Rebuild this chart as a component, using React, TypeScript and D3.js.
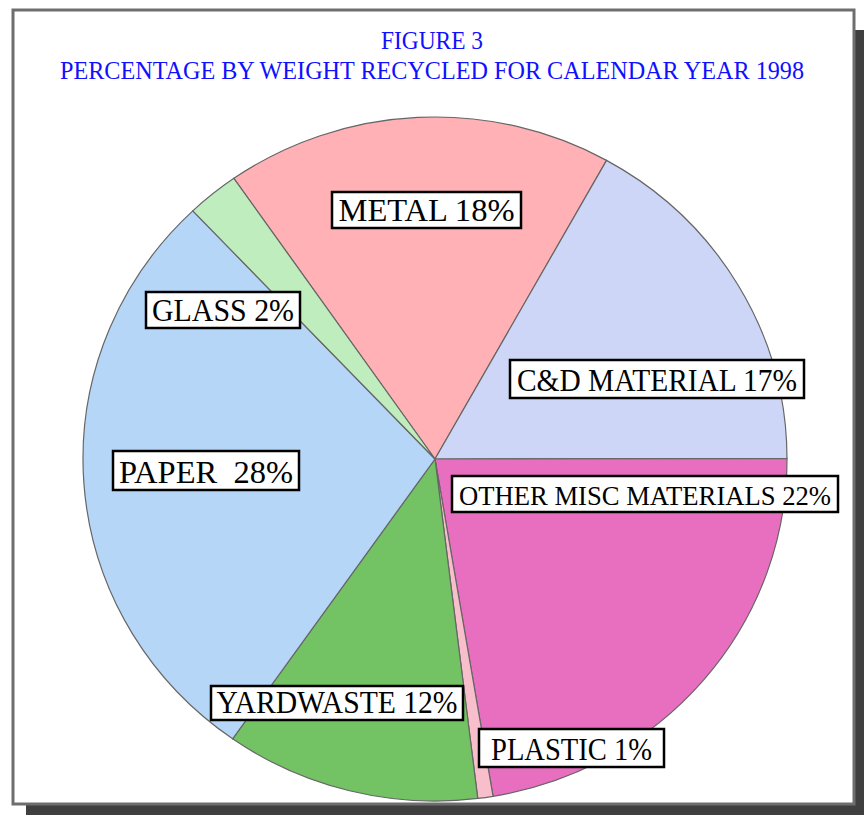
import React from "react";
import * as d3 from "d3";

const categories = ["METAL", "C&D MATERIAL", "OTHER MISC MATERIALS", "PLASTIC", "YARDWASTE", "PAPER", "GLASS"];
const values = [17.8, 16.9, 22.4, 0.7, 11.7, 28.2, 2.4];
const labelTexts = ["METAL 18%", "C&D MATERIAL 17%", "OTHER MISC MATERIALS 22%", "PLASTIC 1%", "YARDWASTE 12%", "PAPER  28%", "GLASS 2%"];
const titleLines = ["FIGURE 3", "PERCENTAGE BY WEIGHT RECYCLED FOR CALENDAR YEAR 1998"];

const colors = ["#FFB1B6", "#CDD6F6", "#E86EC0", "#F8BECB", "#73C263", "#B6D6F7", "#BFEDBE"];

// label box layout: [x, y, w, h, textWidth, fontSize]
const labelLayout: number[][] = [
  [332, 192, 189, 36, 176, 32],
  [510, 360, 294, 38, 280, 32],
  [452, 476, 386, 36, 372, 28],
  [479, 729, 185, 38, 161, 32],
  [211, 686, 252, 34, 241, 32],
  [113, 451, 186, 39, 174, 32],
  [146, 292, 154, 36, 142, 32],
];

const W = 864;
const H = 815;
const cx = 435;
const cy = 459;
const rx = 352;
const ry = 342;

export default function App() {
  const start = (-34.85 * Math.PI) / 180;
  const pie = d3
    .pie<number>()
    .sort(null)
    .value((d) => d)
    .startAngle(start)
    .endAngle(start + 2 * Math.PI);
  const arcs = pie(values);
  const arc = d3.arc<d3.PieArcDatum<number>>().innerRadius(0).outerRadius(rx);

  return (
    <svg
      width={W}
      height={H}
      style={{ position: "absolute", left: 0, top: 0, background: "#fff" }}
      fontFamily="'Liberation Serif', 'Times New Roman', serif"
    >
      {/* shadow */}
      <rect x={855} y={30} width={9} height={785} fill="#3f3f3f" />
      <rect x={26} y={805} width={838} height={10} fill="#3f3f3f" />
      {/* frame */}
      <rect x={13} y={10} width={841} height={794} fill="#fff" stroke="#6e6e6e" strokeWidth={3} />
      {/* title */}
      <text x={432} y={49} textAnchor="middle" fill="#1010ff" fontSize={25} textLength={102} lengthAdjust="spacingAndGlyphs">
        {titleLines[0]}
      </text>
      <text x={432} y={79} textAnchor="middle" fill="#1010ff" fontSize={25} textLength={744} lengthAdjust="spacingAndGlyphs">
        {titleLines[1]}
      </text>
      {/* pie */}
      <g transform={`translate(${cx},${cy}) scale(1,${ry / rx})`}>
        {arcs.map((a, i) => (
          <path
            key={categories[i]}
            d={arc(a) || ""}
            fill={colors[i]}
            stroke="#666"
            strokeWidth={1.2}
            vectorEffect="non-scaling-stroke"
          />
        ))}
      </g>
      {/* labels */}
      {labelLayout.map((l, i) => (
        <g key={labelTexts[i]}>
          <rect x={l[0]} y={l[1]} width={l[2]} height={l[3]} fill="#fff" stroke="#000" strokeWidth={2.5} />
          <text
            x={l[0] + (l[2] - l[4]) / 2}
            y={l[1] + l[3] - 7}
            fontSize={l[5]}
            fill="#000"
            textLength={l[4]}
            lengthAdjust="spacingAndGlyphs"
            style={{ whiteSpace: "pre" }}
          >
            {labelTexts[i]}
          </text>
        </g>
      ))}
    </svg>
  );
}
